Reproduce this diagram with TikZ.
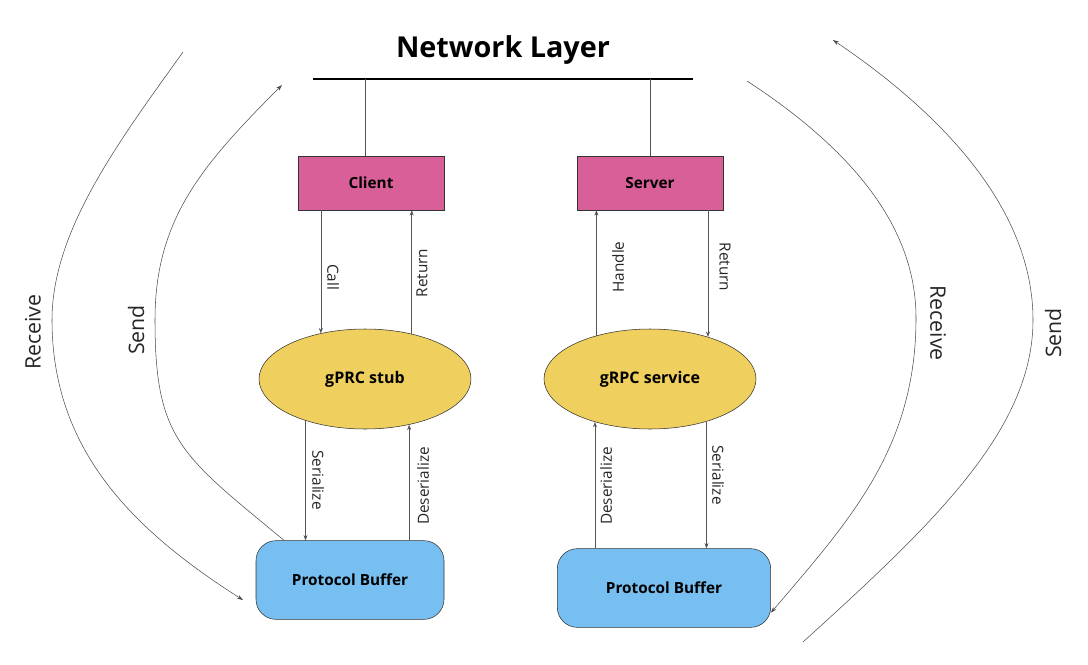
\documentclass[tikz,border=0pt]{standalone}
\usepackage{fontspec}
\setmainfont{Open Sans}
\usetikzlibrary{shapes.geometric,arrows.meta}

\definecolor{hostpink}{HTML}{D95F99}
\definecolor{rpcyellow}{HTML}{EFCF5E}
\definecolor{bufblue}{HTML}{77BFF0}
\definecolor{linegray}{HTML}{555555}

\tikzset{
  hostbox/.style={rectangle, draw=black!80, fill=hostpink, minimum width=109.5pt, minimum height=40.5pt, font=\fontsize{11.5}{13}\selectfont\bfseries},
  rpcnode/.style={ellipse, draw=black!80, fill=rpcyellow, minimum width=159pt, minimum height=75pt, inner sep=0pt, font=\fontsize{12}{14}\selectfont\bfseries},
  bufnode/.style={rectangle, rounded corners=15pt, draw=black!80, fill=bufblue, minimum height=59pt, font=\fontsize{11.5}{13}\selectfont\bfseries},
  msg/.style={draw=linegray, -{Stealth[length=4pt,width=3pt]}},
  flow/.style={draw=black!70, -{Stealth[length=4.5pt,width=3pt]}},
  lbl/.style={font=\fontsize{11.5}{13}\selectfont, text=black!85, inner sep=1pt},
  biglbl/.style={font=\fontsize{16}{18}\selectfont, text=black!85, inner sep=1pt}
}

\begin{document}
\begin{tikzpicture}[x=0.75pt, y=-0.75pt]
\useasboundingbox (0,0) rectangle (1088,664);

% network layer
\node (title) at (503,50) {\fontsize{21.6}{26}\selectfont\bfseries Network Layer};
\coordinate (netL) at (313,79);
\coordinate (netR) at (693,79);
\coordinate (tapL) at (365,79);
\coordinate (tapR) at (650,79);
\draw [line width=1.4pt] (netL) -- (netR);

% hosts
\node [hostbox] (client) at (371,183) {Client};
\node [hostbox] (server) at (650,183) {Server};
\draw [linegray] (tapL) -- (tapL |- client.north);
\draw [linegray] (tapR) -- (tapR |- server.north);

% rpc layer
\node [rpcnode] (stub) at (365,379) {gPRC stub};
\node [rpcnode] (service) at (650,379) {gRPC service};

% protocol buffers
\node [bufnode, minimum width=141pt] (lbuf) at (350,580) {Protocol Buffer};
\node [bufnode, minimum width=160pt] (rbuf) at (664,588) {Protocol Buffer};

% client side
\draw [msg] (client.south -| stub.134) -- (stub.134);
\draw [msg] (stub.44.4) -- (stub.44.4 |- client.south);
\draw [msg] (stub.215.1) -- (stub.215.1 |- lbuf.north);
\draw [msg] (lbuf.north -| stub.314.8) -- (stub.314.8);
\node [lbl, rotate=-90] (call) at (333,277) {Call};
\node [lbl, rotate=90] (cret) at (422,273) {Return};
\node [lbl, rotate=-90] (cser) at (318,480) {Serialize};
\node [lbl, rotate=90] (cdes) at (423,486) {Deserialize};

% server side
\draw [msg] (service.141.5) -- (service.141.5 |- server.south);
\draw [msg] (server.south -| service.36.5) -- (service.36.5);
\draw [msg] (rbuf.north -| service.218.5) -- (service.218.5);
\draw [msg] (service.323.5) -- (service.323.5 |- rbuf.north);
\node [lbl, rotate=90] (handle) at (618,267) {Handle};
\node [lbl, rotate=-90] (sret) at (725,267) {Return};
\node [lbl, rotate=90] (sdes) at (606,486) {Deserialize};
\node [lbl, rotate=-90] (sser) at (718,475) {Serialize};

% send / receive curves
\coordinate (recvLtop) at (183,52);
\coordinate (recvLend) at (243,600);
\coordinate (sendLend) at (282,85);
\coordinate (recvRtop) at (747,81);
\coordinate (sendRbot) at (803,642);
\coordinate (sendRend) at (833,40);
\draw [flow] (recvLtop) .. controls (120,140) and (52,230) .. (52,320)
  .. controls (52,450) and (133,530) .. (recvLend);
\draw [flow] (lbuf.149) .. controls (181,455) and (155,440) .. (155,320)
  .. controls (155,220) and (201,166) .. (sendLend);
\draw [flow] (recvRtop) .. controls (879,167) and (916,248) .. (916,318)
  .. controls (916,448) and (850,520) .. (rbuf.-13);
\draw [flow] (sendRbot) .. controls (933,524) and (1033,430) .. (1033,320)
  .. controls (1033,210) and (944,115) .. (sendRend);
\node [biglbl, rotate=90] (recvl) at (33,332) {Receive};
\node [biglbl, rotate=90] (sendl) at (136,330) {Send};
\node [biglbl, rotate=-90] (recvr) at (938,323) {Receive};
\node [biglbl, rotate=90] (sendr) at (1053,333) {Send};
\end{tikzpicture}
\end{document}
